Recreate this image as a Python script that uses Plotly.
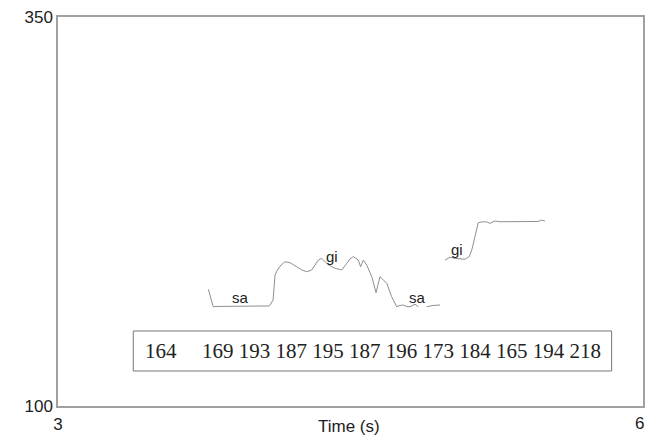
import plotly.graph_objects as go

# Pitch contour (time in s, frequency in Hz); None separates voiced segments
time_s = [3.771, 3.796, 3.831, 3.933, 4.084, 4.103, 4.113, 4.125, 4.144, 4.164, 4.190, 4.224,
          4.251, 4.275, 4.301, 4.335, 4.352, 4.378, 4.400, 4.421, 4.455, 4.481, 4.497, 4.514,
          4.540, 4.552, 4.566, 4.583, 4.609, 4.631, 4.651, 4.668, 4.686, 4.711, 4.737, 4.754,
          4.771, 4.790, 4.805, 4.831, 4.848,
          None,
          4.891, 4.923, 4.959,
          None,
          4.985, 5.010, 5.036, 5.062, 5.087, 5.109, 5.122, 5.138, 5.155, 5.174, 5.198, 5.215,
          5.241, 5.267, 5.318, 5.369, 5.437, 5.462, 5.481, 5.497]
freq_hz = [175.0, 163.8, 164.0, 164.1, 164.3, 168.1, 184.2, 187.4, 190.6, 192.7, 192.1, 189.5,
           187.4, 186.3, 187.4, 193.8, 194.9, 191.7, 189.7, 188.5, 187.4, 191.7, 194.5, 196.0,
           193.8, 189.5, 193.8, 190.6, 183.1, 172.8, 183.1, 181.0, 178.9, 170.2, 163.8, 164.6,
           164.9, 163.9, 163.8, 165.4, 163.8,
           None,
           163.8, 164.6, 164.9,
           None,
           193.8, 195.6, 194.9, 194.5, 194.3, 196.0, 200.3, 208.8, 217.8, 218.3, 218.4, 217.4,
           218.9, 218.4, 218.4, 218.4, 218.4, 218.6, 219.5, 218.9]

syllables = ["sa", "gi", "sa", "gi"]
syllable_t = [3.938, 4.405, 4.846, 5.046]
syllable_f = [170.0, 196.4, 170.0, 200.9]

first_value = "164"
other_values = ["169", "193", "187", "195", "187", "196", "173", "184", "165", "194", "218"]

x_ticks = [3, 6]
y_ticks = [100, 350]

fig = go.Figure()
fig.add_trace(go.Scatter(x=time_s, y=freq_hz, mode="lines",
                         line=dict(color="#8f8f8f", width=1), connectgaps=False,
                         hoverinfo="skip", showlegend=False))

for s, t, f in zip(syllables, syllable_t, syllable_f):
    fig.add_annotation(x=t, y=f, text=s, showarrow=False,
                       font=dict(family="Liberation Sans, Arial", size=15, color="#222"))

# Values box
fig.add_shape(type="rect", xref="x", yref="y", x0=3.386, x1=5.839, y0=122.5, y1=148.2,
              line=dict(color="#777", width=1), fillcolor="rgba(0,0,0,0)")
fig.add_annotation(x=3.528, y=135.5, text=first_value, showarrow=False,
                   font=dict(family="Liberation Serif, Times New Roman", size=21, color="#222"))
fig.add_annotation(x=3.728, y=135.5, text=" ".join(other_values), showarrow=False,
                   xanchor="left",
                   font=dict(family="Liberation Serif, Times New Roman", size=21, color="#222"))

# Axis titles
fig.add_annotation(xref="x", yref="y", x=2.862, y=230.5, text="Freq.<br>(Hz)",
                   showarrow=False, align="center",
                   font=dict(family="Liberation Sans, Arial", size=17, color="#222"))
fig.add_annotation(xref="paper", yref="paper", x=0.497, y=0, yshift=-20, yanchor="middle",
                   text="Time (s)", showarrow=False,
                   font=dict(family="Liberation Sans, Arial", size=17, color="#222"))
# Right-end x tick label (plotly drops it because it overflows the page edge)
fig.add_annotation(xref="x", yref="paper", x=x_ticks[-1], y=0, yshift=-17, yanchor="middle",
                   xanchor="right", xshift=2, borderpad=0,
                   text=str(x_ticks[-1]), showarrow=False,
                   font=dict(family="Liberation Sans, Arial", size=17, color="#222"))

axis_common = dict(showgrid=False, zeroline=False, showline=True, mirror=True,
                   linecolor="#a0a0a0", linewidth=1.5, ticks="", automargin=False,
                   tickfont=dict(family="Liberation Sans, Arial", size=17, color="#222"))
fig.update_xaxes(range=[3, 6], tickvals=x_ticks, ticktext=[str(v) for v in x_ticks],
                 ticklabelstandoff=2, **axis_common)
fig.update_yaxes(range=[100, 350], tickvals=y_ticks, ticktext=[str(v) for v in y_ticks],
                 **axis_common)

fig.update_layout(width=646, height=437, margin=dict(l=58, r=3, t=17, b=31, autoexpand=False),
                  paper_bgcolor="white", plot_bgcolor="white", showlegend=False)

fig.write_html("out.html", config={"displayModeBar": False},
               post_script="document.body.style.margin='0';document.body.style.overflow='hidden';")
